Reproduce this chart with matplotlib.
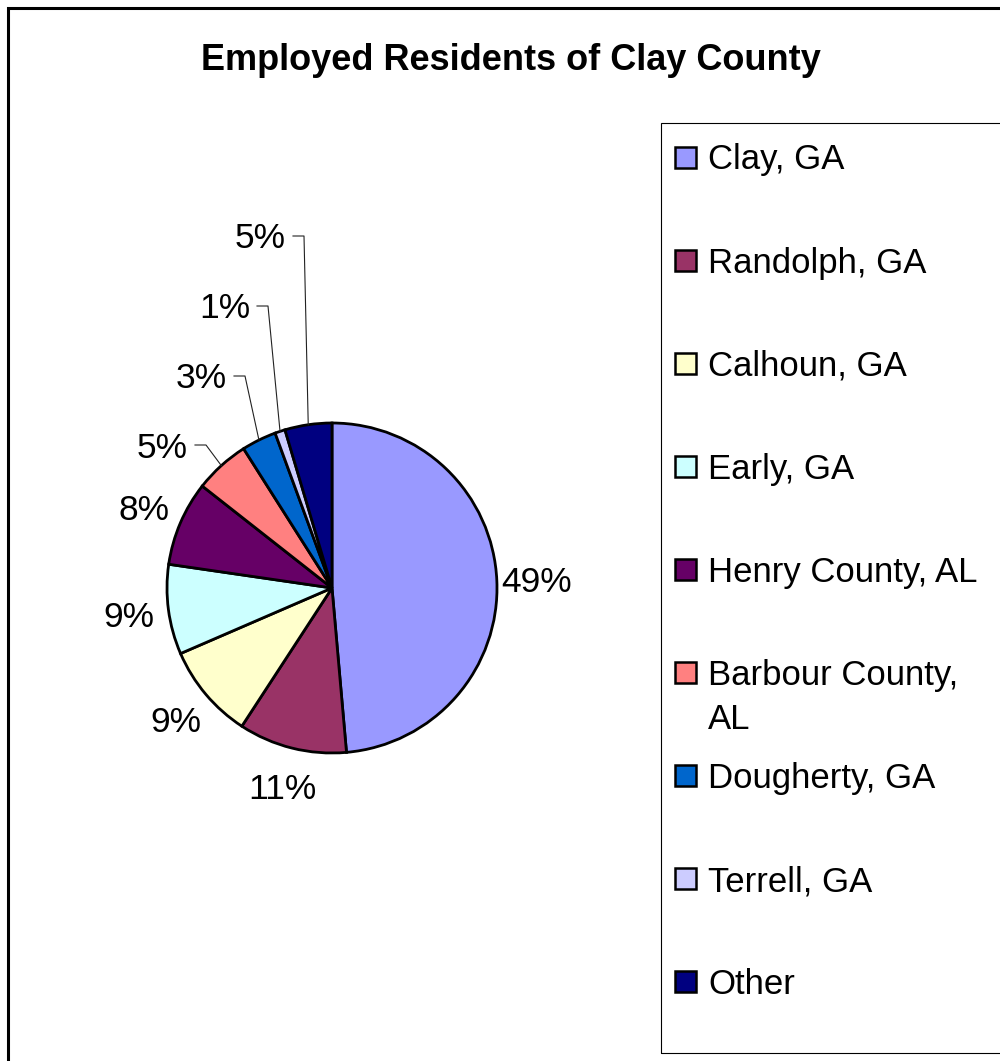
import textwrap
import numpy as np
import matplotlib.pyplot as plt
from matplotlib.patches import Rectangle

W, H = 1000, 1061

counties = ["Clay, GA", "Randolph, GA", "Calhoun, GA", "Early, GA",
            "Henry County, AL", "Barbour County, AL", "Dougherty, GA",
            "Terrell, GA", "Other"]
shares = [48.6, 10.6, 9.3, 8.8, 8.3, 5.4, 3.4, 1.0, 4.6]
colors = ["#9999FF", "#993366", "#FFFFCC", "#CCFFFF", "#660066",
          "#FF8080", "#0066CC", "#CCCCFF", "#000080"]

plt.rcParams['font.family'] = ['Liberation Sans', 'DejaVu Sans']

fig = plt.figure(figsize=(W / 100, H / 100), dpi=100)
ax = fig.add_axes([0, 0, 1, 1])


# layout below is in pixels measured from the top-left corner
def up(y):
    return H - y


cx, cy, R = 332, 588, 165
wedges, _ = ax.pie(shares, colors=colors, startangle=90, counterclock=False,
                   center=(cx, up(cy)), radius=R,
                   wedgeprops=dict(edgecolor='black', linewidth=2.0))

total = sum(shares)
# thin slices at the top-left get their labels on short leaders
leader_at = {5: (195, 445), 6: (234, 376), 7: (257, 306), 8: (293, 236)}

for i, w in enumerate(wedges):
    pct = f"{shares[i] / total * 100:.0f}%"
    ang = np.deg2rad((w.theta1 + w.theta2) / 2)
    ux, uy = np.cos(ang), np.sin(ang)
    if i in leader_at:
        lx, ly = leader_at[i]
        ax.text(lx - 7, up(ly) - 3, pct, fontsize=25.5, ha='right', va='center')
        ax.plot([lx, lx + 11, cx + R * ux], [up(ly), up(ly), up(cy) + R * uy],
                color='#222222', lw=0.8)
    else:
        ax.text(cx + 1.24 * R * ux, up(cy) + 1.24 * R * uy - 3, pct,
                fontsize=25.5, ha='center', va='center')

ax.text(511, up(61), "Employed Residents of Clay County", fontsize=26,
        fontweight='bold', ha='center', va='center')

# legend box runs off the right edge
ax.add_patch(Rectangle((661, up(1053)), 500, 1053 - 123, fill=False,
                       edgecolor='black', lw=0.8))
for i, name in enumerate(counties):
    y = 157 + i * 103.1
    ax.add_patch(Rectangle((674.5, up(y) - 10.5), 21, 21, facecolor=colors[i],
                           edgecolor='black', lw=1.8))
    for k, line in enumerate(textwrap.wrap(name, 16)):
        ax.text(708, up(y + k * 44) - 3, line, fontsize=25, ha='left', va='center')

# outer chart frame, only top and left edges fall inside the image
ax.add_patch(Rectangle((7.5, up(1300)), 1300, 1300 - 7.5, fill=False,
                       edgecolor='black', lw=2.2))

ax.set_xlim(0, W)
ax.set_ylim(0, H)
ax.set_aspect('equal')
ax.axis('off')

fig.savefig('out.png', dpi=100)
